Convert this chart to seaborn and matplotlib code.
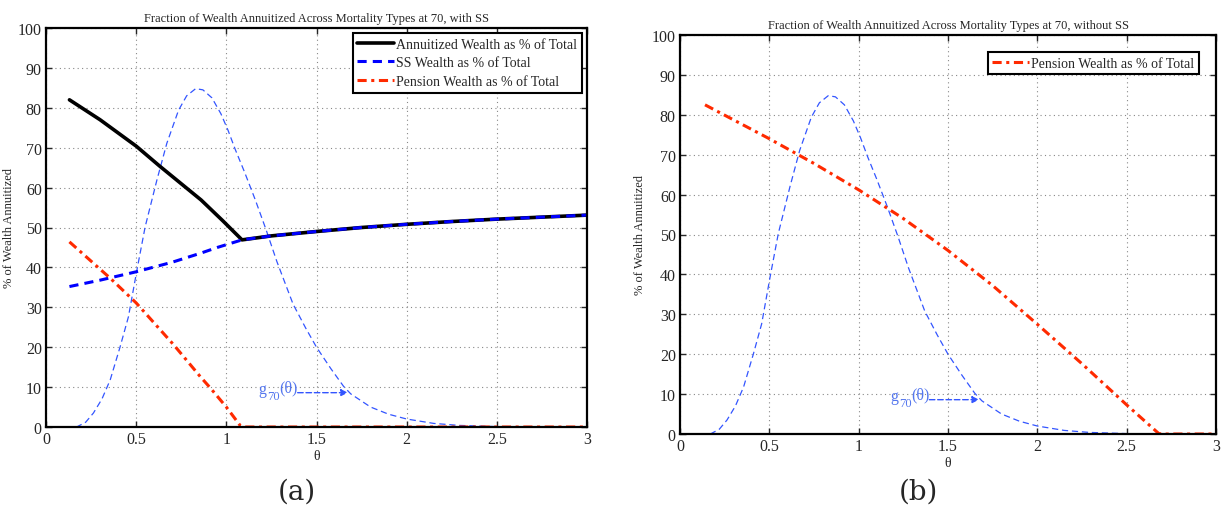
import numpy as np
import pandas as pd
import matplotlib
matplotlib.use("Agg")
import matplotlib.pyplot as plt
import seaborn as sns

# ---------------- data ----------------
# Panel (a): with SS
annuit_theta = [0.13, 0.30, 0.50, 0.63, 0.86, 0.98, 1.087, 1.25, 1.50, 1.75, 2.00, 2.25, 2.50, 2.75, 3.00]
annuit_val   = [82.0, 77.0, 70.4, 65.4, 56.9, 51.7, 46.9, 47.9, 49.0, 50.0, 50.8, 51.5, 52.1, 52.6, 53.1]

ss_theta = [0.13, 0.30, 0.50, 0.70, 0.86, 0.95, 1.087, 1.25, 1.50, 1.75, 2.00, 2.25, 2.50, 2.75, 3.00]
ss_val   = [35.2, 36.8, 38.9, 41.3, 43.6, 45.0, 46.9, 47.9, 49.0, 50.0, 50.8, 51.5, 52.1, 52.6, 53.1]

pension_a_theta = [0.13, 0.356, 0.50, 0.71, 0.856, 0.911, 1.00, 1.078, 1.10, 2.00, 3.00]
pension_a_val   = [46.4, 37.3, 31.1, 20.5, 12.6, 9.8, 5.0, 0.3, 0.0, 0.0, 0.0]

# Panel (b): without SS
pension_b_theta = [0.14, 0.50, 0.75, 1.00, 1.25, 1.50, 1.75, 2.00, 2.25, 2.50, 2.68, 2.70, 3.00]
pension_b_val   = [82.5, 74.0, 67.8, 61.2, 54.0, 46.0, 37.2, 27.5, 17.6, 7.3, 0.1, 0.0, 0.0]

# Mortality-type density g_70(theta) (scaled)
dens_theta = [0.00, 0.17, 0.22, 0.263, 0.31, 0.356, 0.411, 0.457, 0.504, 0.55, 0.615, 0.67,
              0.735, 0.78, 0.83, 0.87, 0.92, 0.97, 1.01, 1.05, 1.10, 1.16, 1.22, 1.28, 1.37,
              1.44, 1.50, 1.58, 1.65, 1.69, 1.80, 1.90, 2.00, 2.15, 2.29, 2.50, 2.75, 3.00]
dens_val   = [0.0, 0.0, 1.2, 3.5, 7.0, 11.8, 20.1, 27.6, 39.3, 50.2, 61.9, 71.1,
              79.4, 83.0, 84.8, 84.5, 82.5, 78.5, 74.3, 69.5, 64.0, 57.0, 49.5, 41.5, 30.8,
              24.8, 20.0, 14.6, 10.2, 8.3, 5.0, 3.2, 2.0, 0.9, 0.4, 0.1, 0.0, 0.0]

xticks = [0, 0.5, 1, 1.5, 2, 2.5, 3]
xticklabels = ["0", "0.5", "1", "1.5", "2", "2.5", "3"]
yticks = list(range(0, 101, 10))

titles = ["Fraction of Wealth Annuitized Across Mortality Types at 70, with SS",
          "Fraction of Wealth Annuitized Across Mortality Types at 70, without SS"]
ylabel = "% of Wealth Annuitized"
xlabel = "θ"
panel_labels = ["(a)", "(b)"]
annot_parts = ["g", "70", "(θ)"]

# ---------------- style ----------------
sns.set_style("ticks")
plt.rcParams["font.family"] = ["Liberation Serif", "DejaVu Serif"]
plt.rcParams["xtick.direction"] = "in"
plt.rcParams["ytick.direction"] = "in"

BLUE = "#0000ff"
RED = "#ff2a00"
DENS = "#3355ff"
ANN = "#5577ee"

fig = plt.figure(figsize=(12.25, 5.1), dpi=100)
axA = fig.add_axes([46/1225, 1-428/510, (587-46)/1225, (428-29)/510])
axB = fig.add_axes([680/1225, 1-435/510, (1216-680)/1225, (435-36)/510])

dens_df = pd.DataFrame({"theta": dens_theta, "val": dens_val})

def style_axes(ax, title, ylab_x):
    ax.set_xlim(0, 3)
    ax.set_ylim(0, 100)
    ax.set_xticks(xticks)
    ax.set_xticklabels(xticklabels)
    ax.set_yticks(yticks)
    ax.tick_params(axis="both", which="both", direction="in", top=True, right=True,
                   labelsize=11.5, length=4, width=1, pad=3)
    ax.grid(True, linestyle=(0, (1, 3)), color="#888888", linewidth=0.8)
    for s in ax.spines.values():
        s.set_linewidth(1.6)
        s.set_color("black")
    ax.set_title(title, fontsize=9, pad=5)
    ax.set_xlabel(xlabel, fontsize=10, labelpad=1)
    ax.set_ylabel(ylabel, fontsize=9)
    ax.yaxis.set_label_coords(ylab_x, 0.5)

def draw_density(ax):
    sns.lineplot(data=dens_df, x="theta", y="val", ax=ax, color=DENS, linewidth=0.9,
                 linestyle=(0, (5, 3)), legend=False)
    ax.annotate("", xy=(1.69, 8.6), xytext=(1.38, 8.6),
                arrowprops=dict(arrowstyle="-|>", color=DENS, linestyle=(0, (4, 2)),
                                linewidth=1.0, mutation_scale=10))
    ax.annotate(annot_parts[0], xy=(1.18, 9.6), xytext=(0, 0), textcoords="offset points",
                color=ANN, fontsize=11.5, va="center", ha="left")
    ax.annotate(annot_parts[1], xy=(1.18, 9.6), xytext=(6, -5), textcoords="offset points",
                color=ANN, fontsize=9, va="center", ha="left")
    ax.annotate(annot_parts[2], xy=(1.18, 9.6), xytext=(14.5, 1), textcoords="offset points",
                color=ANN, fontsize=11.5, va="center", ha="left")

# Panel (a)
draw_density(axA)
sns.lineplot(x=annuit_theta, y=annuit_val, ax=axA, color="black", linewidth=2.6,
             label="Annuitized Wealth as % of Total")
sns.lineplot(x=ss_theta, y=ss_val, ax=axA, color=BLUE, linewidth=2.2,
             linestyle=(0, (3, 2)), label="SS Wealth as % of Total")
sns.lineplot(x=pension_a_theta, y=pension_a_val, ax=axA, color=RED, linewidth=2.2,
             linestyle=(0, (3, 1.5, 1, 1.5)), label="Pension Wealth as % of Total")
style_axes(axA, titles[0], -0.057)
legA = axA.legend(loc="upper right", fontsize=10, frameon=True, fancybox=False,
                  edgecolor="black", framealpha=1, handlelength=2.6, handletextpad=0.2,
                  borderpad=0.35, labelspacing=0.4, borderaxespad=0.35)
legA.get_frame().set_linewidth(1.5)

# Panel (b)
draw_density(axB)
sns.lineplot(x=pension_b_theta, y=pension_b_val, ax=axB, color=RED, linewidth=2.2,
             linestyle=(0, (3, 1.5, 1, 1.5)), label="Pension Wealth as % of Total")
style_axes(axB, titles[1], -0.063)
legB = axB.legend(loc="upper right", fontsize=10, frameon=True, fancybox=False,
                  edgecolor="black", framealpha=1, handlelength=2.6, handletextpad=0.2,
                  borderpad=0.35, borderaxespad=1.2)
legB.get_frame().set_linewidth(1.5)

# Panel labels
fig.text(297/1225, 1-492/510, panel_labels[0], fontsize=20, ha="center", va="center",
         family=["DejaVu Serif"])
fig.text(918/1225, 1-492/510, panel_labels[1], fontsize=20, ha="center", va="center",
         family=["DejaVu Serif"])

fig.savefig("out.png", dpi=100)
